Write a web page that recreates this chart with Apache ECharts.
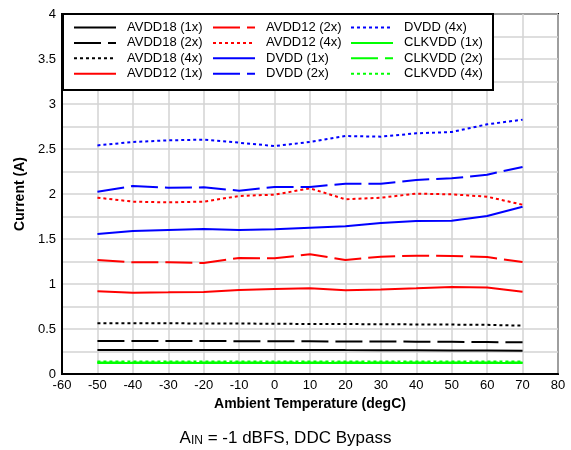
<!DOCTYPE html>
<html>
<head>
<meta charset="utf-8">
<script src="https://cdn.jsdelivr.net/npm/echarts@6/dist/echarts.min.js"></script>
<style>
html,body{margin:0;padding:0;background:#fff;}
#c{width:571px;height:450px;}
</style>
</head>
<body>
<div id="c"></div>
<script>
var temps = [-50,-40,-30,-20,-10,0,10,20,30,40,50,60,70];
var avdd18_1x = [0.268,0.268,0.268,0.268,0.268,0.268,0.268,0.266,0.265,0.264,0.262,0.261,0.259];
var avdd18_2x = [0.367,0.367,0.366,0.366,0.365,0.364,0.363,0.362,0.361,0.359,0.357,0.355,0.352];
var avdd18_4x = [0.565,0.565,0.563,0.562,0.561,0.558,0.556,0.555,0.553,0.551,0.549,0.546,0.537];
var avdd12_1x = [0.919,0.904,0.907,0.911,0.933,0.944,0.952,0.930,0.940,0.952,0.967,0.960,0.915];
var avdd12_2x = [1.267,1.241,1.241,1.233,1.289,1.285,1.330,1.267,1.304,1.315,1.311,1.300,1.244];
var avdd12_4x = [1.959,1.915,1.907,1.915,1.978,1.993,2.063,1.941,1.959,2.004,1.996,1.970,1.881];
var dvdd_1x = [1.556,1.589,1.600,1.611,1.600,1.607,1.626,1.641,1.678,1.700,1.702,1.756,1.859];
var dvdd_2x = [2.026,2.089,2.070,2.074,2.037,2.078,2.078,2.115,2.115,2.156,2.174,2.215,2.300];
var dvdd_4x = [2.540,2.578,2.596,2.604,2.570,2.533,2.578,2.644,2.637,2.674,2.689,2.774,2.826];
var clkvdd_1x = [0.122,0.122,0.122,0.122,0.122,0.122,0.122,0.122,0.122,0.122,0.122,0.122,0.122];
var clkvdd_2x = [0.129,0.129,0.129,0.129,0.129,0.129,0.129,0.129,0.129,0.129,0.129,0.129,0.129];
var clkvdd_4x = [0.140,0.140,0.140,0.140,0.140,0.140,0.140,0.140,0.140,0.140,0.140,0.140,0.139];

var seriesNames = ['AVDD18 (1x)','AVDD18 (2x)','AVDD18 (4x)','AVDD12 (1x)','AVDD12 (2x)','AVDD12 (4x)','DVDD (1x)','DVDD (2x)','DVDD (4x)','CLKVDD (1x)','CLKVDD (2x)','CLKVDD (4x)'];
var seriesData = [avdd18_1x,avdd18_2x,avdd18_4x,avdd12_1x,avdd12_2x,avdd12_4x,dvdd_1x,dvdd_2x,dvdd_4x,clkvdd_1x,clkvdd_2x,clkvdd_4x];
var colors = ['#000000','#000000','#000000','#ff0000','#ff0000','#ff0000','#0000ff','#0000ff','#0000ff','#00ff00','#00ff00','#00ff00'];
var dashTypes = ['solid',[27,7],[3,3]];

var series = seriesNames.map(function(n,i){
  return {
    name:n, type:'line', showSymbol:false, symbol:'none', animation:false,
    data: temps.map(function(t,j){return [t, seriesData[i][j]];}),
    lineStyle:{color:colors[i], width:2, type:dashTypes[i%3]},
    itemStyle:{color:colors[i]},
    z: 2
  };
});

function mkLegend(names,left){
  return {
    orient:'vertical', left:left, top:21, itemWidth:42, itemHeight:14, itemGap:2.4,
    padding:0,
    data:names.map(function(n){return {name:n};}),
    itemStyle:{opacity:0},
    textStyle:{fontFamily:'Liberation Sans, Arial', fontSize:13, color:'#000', padding:[0,0,0,6]},
    selectedMode:false, z:5
  };
}

var chart = echarts.init(document.getElementById('c'), null, {renderer:'canvas'});
chart.setOption({
  animation:false,
  backgroundColor:'#fff',
  textStyle:{fontFamily:'Liberation Sans, Arial'},
  grid:{left:62, right:13, top:14, bottom:76, show:true, borderColor:'#000', borderWidth:2, containLabel:false},
  legend:[
    mkLegend(seriesNames.slice(0,4),73),
    mkLegend(seriesNames.slice(4,8),212),
    mkLegend(seriesNames.slice(8,12),350)
  ],
  graphic:[
    {type:'rect', z:3, shape:{x:63, y:14, width:430, height:76}, style:{fill:'#fff', stroke:'#000', lineWidth:2}}
  ],
  title:{
    text:'{a|A}{s|IN}{a| = -1 dBFS, DDC Bypass}',
    left:'center', top:420,
    textStyle:{
      fontWeight:'normal',
      rich:{
        a:{fontSize:17, fontWeight:'normal', fontFamily:'Liberation Sans, Arial', color:'#000', lineHeight:22, verticalAlign:'bottom'},
        s:{fontSize:12, fontWeight:'normal', fontFamily:'Liberation Sans, Arial', color:'#000', lineHeight:22, verticalAlign:'bottom', padding:[6,0,0,0]}
      }
    }
  },
  xAxis:{
    type:'value', min:-60, max:80, interval:10,
    name:'Ambient Temperature (degC)', nameLocation:'middle', nameGap:23,
    nameTextStyle:{fontSize:14, fontWeight:'bold', color:'#000', fontFamily:'Liberation Sans, Arial'},
    axisLine:{show:true, onZero:false, lineStyle:{color:'#000', width:2}},
    axisTick:{show:false},
    axisLabel:{fontSize:13, color:'#000', margin:5, fontFamily:'Liberation Sans, Arial'},
    splitLine:{show:true, lineStyle:{color:'#d3d3d3', width:1.5}}
  },
  yAxis:{
    type:'value', min:0, max:4, interval:0.25,
    name:'Current (A)', nameLocation:'middle', nameGap:35, nameRotate:90,
    nameTextStyle:{fontSize:14, fontWeight:'bold', color:'#000', fontFamily:'Liberation Sans, Arial'},
    axisLine:{show:true, onZero:false, lineStyle:{color:'#000', width:2}},
    axisTick:{show:false},
    axisLabel:{fontSize:13, color:'#000', margin:6, fontFamily:'Liberation Sans, Arial',
      formatter:function(v){ return (Math.abs(v*2 - Math.round(v*2))<1e-9) ? String(v) : ''; }},
    splitLine:{show:true, lineStyle:{color:'#d3d3d3', width:1.5}}
  },
  series:series
});
</script>
</body>
</html>
